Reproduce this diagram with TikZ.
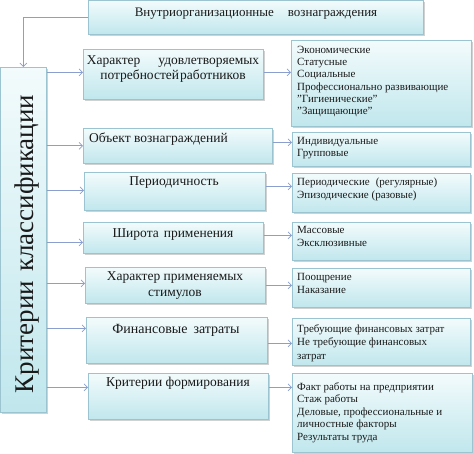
\documentclass[tikz,border=0pt]{standalone}
\usepackage{fontspec}
\setmainfont{Liberation Serif}
\usetikzlibrary{shadows,arrows.meta}
\definecolor{boxline}{HTML}{9CC3D0}
\definecolor{boxtop}{HTML}{F3FBFC}
\definecolor{boxbot}{HTML}{C0E7ED}
\definecolor{arrcol}{HTML}{8A9FCF}
\definecolor{txt}{HTML}{1A1A1A}
\begin{document}
\begin{tikzpicture}[x=1pt,y=-1pt,
  box/.style={draw=boxline, line width=0.6pt, top color=boxtop, bottom color=boxbot,
    drop shadow={shadow xshift=1.2pt, shadow yshift=-1.5pt, opacity=0.3, fill=black!60},
    inner sep=0pt, anchor=north west},
  con/.style={draw=arrcol, line width=0.7pt, -{Straight Barb[length=3.5pt,width=7pt]}},
  mtxt/.style={font=\fontsize{13.5}{15}\selectfont, text=txt, inner sep=0pt, align=center},
  rtxt/.style={font=\fontsize{11}{12.5}\selectfont, text=txt, inner sep=0pt, align=left, anchor=north west},
]
\useasboundingbox (0,0) rectangle (474,454);
% boxes
\node[box, minimum width=335pt, minimum height=34pt] (T) at (88,0) {};
\node[box, minimum width=46pt, minimum height=345pt] (L) at (0,67) {};
\node[box, minimum width=180pt, minimum height=50pt] (m1) at (83,49) {};
\node[box, minimum width=189pt, minimum height=35pt] (m2) at (83,128) {};
\node[box, minimum width=181pt, minimum height=38pt] (m3) at (84,172) {};
\node[box, minimum width=180pt, minimum height=31pt] (m4) at (83,222) {};
\node[box, minimum width=180pt, minimum height=36pt] (m5) at (85,267) {};
\node[box, minimum width=181pt, minimum height=46pt] (m6) at (86,317) {};
\node[box, minimum width=180pt, minimum height=46pt] (m7) at (88,373) {};
\node[box, minimum width=180pt, minimum height=86pt] (r1) at (291,40) {};
\node[box, minimum width=178pt, minimum height=34pt] (r2) at (292,132) {};
\node[box, minimum width=178pt, minimum height=39pt] (r3) at (292,173) {};
\node[box, minimum width=178pt, minimum height=38pt] (r4) at (292,222) {};
\node[box, minimum width=178pt, minimum height=39pt] (r5) at (292,268) {};
\node[box, minimum width=178pt, minimum height=47pt] (r6) at (292,318) {};
\node[box, minimum width=180pt, minimum height=79pt] (r7) at (292,373) {};
% texts
\node[mtxt, font=\fontsize{13}{15}\selectfont] (tT) at (256,14) {Внутриорганизационные\hspace{14pt}вознаграждения};
\node[rotate=90, anchor=base, inner sep=0pt, text=txt, font=\fontsize{27}{27}\selectfont] (tL) at (33,244) {Критерии\hspace{9pt}классификации};
\node[mtxt, font=\fontsize{13.5}{14.5}\selectfont] (t1) at (173,69) {Характер\hspace{18pt}удовлетворяемых\\потребностей\hspace{1pt}работников};
\node[mtxt, anchor=west] (t2) at (89,139) {Объект вознаграждений};
\node[mtxt] (t3) at (174,183) {Периодичность};
\node[mtxt] (t4) at (173,235) {Широта\hspace{5pt}применения};
\node[mtxt, font=\fontsize{13.5}{16}\selectfont] (t5) at (175,286) {Характер применяемых\\стимулов};
\node[mtxt, font=\fontsize{14}{16}\selectfont] (t6) at (176,330) {Финансовые\hspace{6pt}затраты};
\node[mtxt] (t7) at (178,383) {Критерии формирования};
\node[rtxt, font=\fontsize{11}{12.2}\selectfont] (s1) at (297,46) {Экономические\\Статусные\\Социальные\\Профессионально развивающие\\"Гигиенические"\\"Защищающие"};
\node[rtxt] (s2) at (297,137) {Индивидуальные\\Групповые};
\node[rtxt, font=\fontsize{11}{13}\selectfont] (s3) at (297,178) {Периодические\hspace{6pt}(регулярные)\\Эпизодические (разовые)};
\node[rtxt, font=\fontsize{11}{13}\selectfont] (s4) at (297,226) {Массовые\\Эксклюзивные};
\node[rtxt, font=\fontsize{11}{13}\selectfont] (s5) at (297,273) {Поощрение\\Наказание};
\node[rtxt, font=\fontsize{11}{13.5}\selectfont] (s6) at (297,324) {Требующие финансовых затрат\\Не требующие финансовых\\затрат};
\node[rtxt] (s7) at (297,382) {Факт работы на предприятии\\Стаж работы\\Деловые, профессиональные и\\личностные факторы\\Результаты труда};
% connector anchor points
\coordinate (a1) at ([yshift=2pt]m1.west);
\coordinate (a2) at (m2.west);
\coordinate (a3) at ([yshift=1pt]m3.west);
\coordinate (a4) at ([yshift=-4.5pt]m4.west);
\coordinate (a5) at ([yshift=2pt]m5.west);
\coordinate (a6) at ([yshift=12pt]m6.west);
\coordinate (a7) at ([yshift=9pt]m7.west);
\coordinate (b1) at ([yshift=2pt]m1.east);
\coordinate (b2) at ([yshift=3.5pt]m2.east);
\coordinate (b3) at ([yshift=5pt]m3.east);
\coordinate (b4) at ([yshift=2.5pt]m4.east);
\coordinate (b5) at (m5.east);
\coordinate (b6) at ([yshift=-3pt]m6.east);
\coordinate (b7) at ([yshift=9pt]m7.east);
% connectors
\draw[con] (T.west) -| (L.north);
\foreach \i in {1,...,7}{
  \draw[con] (L.east |- a\i) -- (a\i);
  \draw[con] (b\i) -- (r\i.west |- b\i);
}
\end{tikzpicture}
\end{document}
